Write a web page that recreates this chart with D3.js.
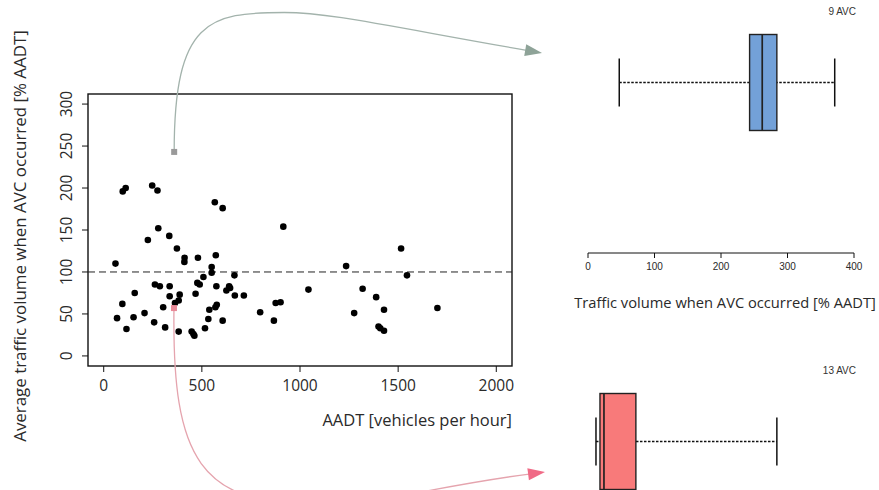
<!DOCTYPE html>
<html>
<head>
<meta charset="utf-8">
<script src="https://cdn.jsdelivr.net/npm/d3@7"></script>
<style>
  body { margin: 0; background: #fff; }
  svg { display: block; font-family: "Open Sans", sans-serif; }
</style>
</head>
<body>
<div id="chart"></div>
<script>
// scatter: AADT vs average traffic volume when AVC occurred
const aadt = [60, 68, 97, 112, 95, 116, 158, 152, 208, 225, 247, 274, 278, 261, 286, 257,
  303, 313, 334, 336, 336, 373, 387, 382, 363, 382, 412, 411, 480, 468, 477, 489,
  448, 457, 462, 508, 516, 533, 538, 550, 550, 566, 571, 574, 569, 576, 606, 606,
  625, 639, 644, 666, 668, 714, 797, 867, 876, 901, 915, 1043, 1235, 1276, 1319, 1388,
  1400, 1409, 1428, 1428, 1515, 1545, 1700];
const avgVolume = [110, 45, 196, 200, 62, 32, 75, 46, 51, 138, 203, 197, 152, 85, 83, 40,
  58, 34, 143, 83, 71, 128, 73, 66, 63, 29, 117, 112, 117, 74, 87, 85,
  29, 26, 24, 94, 33, 44, 55, 106, 99, 183, 120, 83, 58, 61, 176, 42,
  78, 83, 81, 96, 72, 72, 52, 42, 63, 64, 154, 79, 107, 51, 80, 70,
  35, 33, 55, 30, 128, 96, 57];

// the two highlighted sites (grey = upper box, red = lower box)
const highlightAadt = [359, 358];
const highlightVolume = [243, 57];
const highlightColors = ["#9a9a9a", "#e98a98"];

const xTicks = [0, 500, 1000, 1500, 2000];
const yTicks = [0, 50, 100, 150, 200, 250, 300];
const refLine = 100;

// box plots of traffic volume when AVC occurred
const boxLabels = ["9 AVC", "13 AVC"];
const boxMin = [47, 12];
const boxQ1 = [243, 18];
const boxMedian = [262, 24];
const boxQ3 = [284, 72];
const boxMax = [371, 284];
const boxColors = ["#73a1d8", "#f87a7a"];
const boxTicks = [0, 100, 200, 300, 400];

const width = 879, height = 490;
const textColor = "#2a2a2a";

const svg = d3.select("#chart").append("svg")
  .attr("width", width)
  .attr("height", height);

// scales (R style: limits padded by 4%)
const x = d3.scaleLinear().domain([-80, 2080]).range([88, 512]);
const y = d3.scaleLinear().domain([-12, 312]).range([366, 94]);

// plot frame
svg.append("rect")
  .attr("x", x.range()[0]).attr("y", y.range()[1])
  .attr("width", x.range()[1] - x.range()[0])
  .attr("height", y.range()[0] - y.range()[1])
  .attr("fill", "none").attr("stroke", "#111").attr("stroke-width", 1.4);

// x axis
const gx = svg.append("g").attr("transform", `translate(0,${y.range()[0]})`);
gx.selectAll("line").data(xTicks).join("line")
  .attr("x1", d => x(d)).attr("x2", d => x(d))
  .attr("y1", 0).attr("y2", 6).attr("stroke", "#111");
gx.selectAll("text").data(xTicks).join("text")
  .attr("x", d => x(d)).attr("y", 20)
  .attr("text-anchor", "middle").attr("dy", "0.35em")
  .attr("font-size", 15.5).attr("fill", textColor)
  .text(d => d);

// y axis (rotated tick labels)
const gy = svg.append("g").attr("transform", `translate(${x.range()[0]},0)`);
gy.selectAll("line").data(yTicks).join("line")
  .attr("y1", d => y(d)).attr("y2", d => y(d))
  .attr("x1", 0).attr("x2", -6).attr("stroke", "#111");
gy.selectAll("text").data(yTicks).join("text")
  .attr("transform", d => `translate(-21,${y(d)}) rotate(-90)`)
  .attr("text-anchor", "middle").attr("dy", "0.35em")
  .attr("font-size", 15.5).attr("fill", textColor)
  .text(d => d);

// axis titles
svg.append("text")
  .attr("x", 512).attr("y", 420).attr("dy", "0.35em")
  .attr("text-anchor", "end").attr("font-size", 16.5).attr("fill", textColor)
  .text("AADT [vehicles per hour]");
svg.append("text")
  .attr("transform", "translate(20,236) rotate(-90)")
  .attr("text-anchor", "middle").attr("dy", "0.35em")
  .attr("font-size", 16.9).attr("fill", textColor)
  .text("Average traffic volume when AVC occurred [% AADT]");

// reference line at 100%
svg.append("line")
  .attr("x1", x.range()[0]).attr("x2", x.range()[1])
  .attr("y1", y(refLine)).attr("y2", y(refLine))
  .attr("stroke", "#222").attr("stroke-dasharray", "7,4");

// points
svg.append("g").selectAll("circle")
  .data(d3.range(aadt.length))
  .join("circle")
  .attr("cx", i => x(aadt[i]))
  .attr("cy", i => y(avgVolume[i]))
  .attr("r", 3.3)
  .attr("fill", "#000");

// box plots
const bx = d3.scaleLinear().domain([0, 400]).range([588, 854]);
const boxCenter = [82.5, 441.5];
const boxHalf = 48, capHalf = 24;

const gb = svg.append("g").selectAll("g")
  .data(d3.range(boxLabels.length))
  .join("g")
  .attr("transform", i => `translate(0,${boxCenter[i]})`);

gb.append("line") // whisker
  .attr("x1", i => bx(boxMin[i])).attr("x2", i => bx(boxMax[i]))
  .attr("stroke", "#111").attr("stroke-width", 1.3).attr("stroke-dasharray", "2.5,1.5");
gb.append("line")
  .attr("x1", i => bx(boxMin[i])).attr("x2", i => bx(boxMin[i]))
  .attr("y1", -capHalf).attr("y2", capHalf).attr("stroke", "#111").attr("stroke-width", 1.5);
gb.append("line")
  .attr("x1", i => bx(boxMax[i])).attr("x2", i => bx(boxMax[i]))
  .attr("y1", -capHalf).attr("y2", capHalf).attr("stroke", "#111").attr("stroke-width", 1.5);
gb.append("rect")
  .attr("x", i => bx(boxQ1[i]))
  .attr("width", i => bx(boxQ3[i]) - bx(boxQ1[i]))
  .attr("y", -boxHalf).attr("height", 2 * boxHalf)
  .attr("fill", i => boxColors[i]).attr("stroke", "#222").attr("stroke-width", 1.4);
gb.append("line")
  .attr("x1", i => bx(boxMedian[i])).attr("x2", i => bx(boxMedian[i]))
  .attr("y1", -boxHalf).attr("y2", boxHalf).attr("stroke", "#222").attr("stroke-width", 1.7);
gb.append("text")
  .attr("x", 856).attr("y", -boxHalf - 23).attr("dy", "0.35em")
  .attr("text-anchor", "end")
  .attr("font-family", "Liberation Sans, Arial, sans-serif")
  .attr("font-size", 10).attr("fill", "#333")
  .text(i => boxLabels[i]);

// box axis
const axisY = 253;
const ga = svg.append("g").attr("transform", `translate(0,${axisY})`);
ga.append("line")
  .attr("x1", bx(0)).attr("x2", bx(400)).attr("stroke", "#111");
ga.selectAll(".t").data(boxTicks).join("line")
  .attr("x1", d => bx(d)).attr("x2", d => bx(d))
  .attr("y1", 0).attr("y2", 5).attr("stroke", "#111");
ga.selectAll("text").data(boxTicks).join("text")
  .attr("x", d => bx(d)).attr("y", 13).attr("dy", "0.35em")
  .attr("text-anchor", "middle")
  .attr("font-family", "Liberation Sans, Arial, sans-serif")
  .attr("font-size", 10).attr("fill", textColor)
  .text(d => d);
svg.append("text")
  .attr("x", 725).attr("y", 303).attr("dy", "0.35em")
  .attr("text-anchor", "middle").attr("font-size", 14.7).attr("fill", textColor)
  .text("Traffic volume when AVC occurred [% AADT]");

// connector arrows from highlighted sites to their box plots
function arrowHead(tip, from, color) {
  const ang = Math.atan2(tip[1] - from[1], tip[0] - from[0]);
  const len = 17, w = 6;
  const bxp = tip[0] - len * Math.cos(ang), byp = tip[1] - len * Math.sin(ang);
  const px = -Math.sin(ang) * w, py = Math.cos(ang) * w;
  svg.append("path")
    .attr("d", `M${tip[0]},${tip[1]}L${bxp + px},${byp + py}L${bxp - px},${byp - py}Z`)
    .attr("fill", color);
}

// upper (grey) connector
{
  const s = [x(highlightAadt[0]), y(highlightVolume[0])];
  const tip = [bx(0) - 46, 53];
  const peak = [s[0] + 110, 12.5];
  const p = d3.path();
  p.moveTo(s[0], s[1]);
  p.bezierCurveTo(s[0], 20, s[0] + 35, peak[1], peak[0], peak[1]);
  p.bezierCurveTo(peak[0] + 45, peak[1], tip[0] - 160, tip[1] - 28, tip[0] - 14, tip[1] - 2.4);
  svg.append("path").attr("d", p.toString())
    .attr("fill", "none").attr("stroke", "#a3b3ac").attr("stroke-width", 1.3);
  arrowHead(tip, [tip[0] - 100, tip[1] - 17], "#8ea398");
}

// lower (red) connector
{
  const s = [x(highlightAadt[1]), y(highlightVolume[1])];
  const tip = [bx(0) - 43, 472];
  const low = [320, 505];
  const p = d3.path();
  p.moveTo(s[0], s[1]);
  p.bezierCurveTo(s[0] - 2, 460, 200, low[1], low[0], low[1]);
  p.bezierCurveTo(low[0] + 60, low[1], tip[0] - 120, tip[1] + 15.6, tip[0] - 14, tip[1] + 1.8);
  svg.append("path").attr("d", p.toString())
    .attr("fill", "none").attr("stroke", "#e5a4ae").attr("stroke-width", 1.3);
  arrowHead(tip, [tip[0] - 100, tip[1] + 13], "#f06a86");
}

// highlighted points drawn on top
svg.append("g").selectAll("rect")
  .data(d3.range(highlightAadt.length))
  .join("rect")
  .attr("x", i => x(highlightAadt[i]) - 3)
  .attr("y", i => y(highlightVolume[i]) - 3)
  .attr("width", 6).attr("height", 6)
  .attr("fill", i => highlightColors[i]);
</script>
</body>
</html>
